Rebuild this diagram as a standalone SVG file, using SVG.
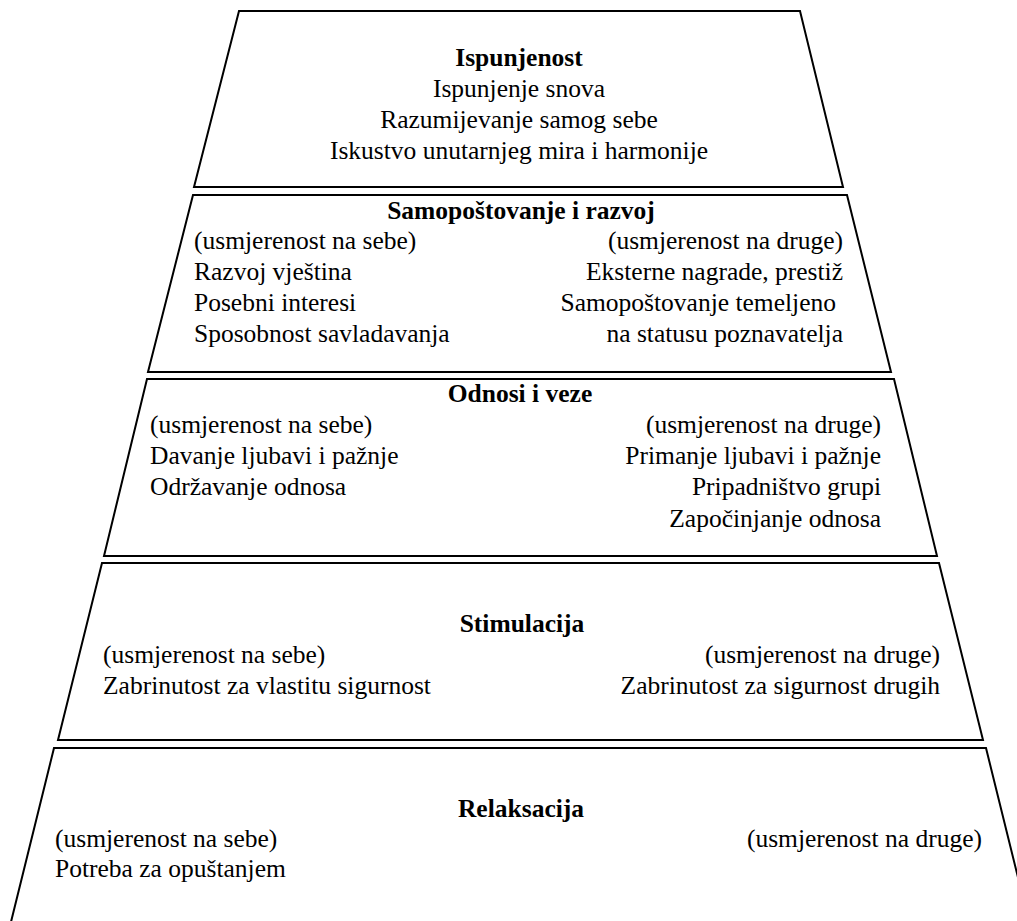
<svg xmlns="http://www.w3.org/2000/svg" width="1017" height="921" viewBox="0 0 1017 921">
<style>
.box{fill:#ffffff;stroke:#000000;stroke-width:2;stroke-linejoin:miter}
.tx{font-family:'Liberation Serif','DejaVu Serif','Noto Serif',serif;font-size:25.5px;fill:#000000}
.t{font-weight:bold;text-anchor:middle}
.c{text-anchor:middle}
.r{text-anchor:end}
</style>
<rect x="0" y="0" width="1017" height="921" fill="#ffffff"/>
<g id="connectors"/>
<g id="ispunjenost" class="tx" font-family="Liberation Serif, DejaVu Serif, serif">
<polygon class="box" points="239,11 800,11 843,187 194,187"/>
<text class="t" x="519" y="66">Ispunjenost</text>
<text class="c" x="519" y="97">Ispunjenje snova</text>
<text class="c" x="519" y="128">Razumijevanje samog sebe</text>
<text class="c" x="519" y="159">Iskustvo unutarnjeg mira i harmonije</text>
</g>
<g id="samopostovanje" class="tx" font-family="Liberation Serif, DejaVu Serif, serif">
<polygon class="box" points="193,195 847,195 891,372 148,372"/>
<text class="t" x="521" y="219">Samopoštovanje  i razvoj</text>
<text x="194" y="249">(usmjerenost na sebe)</text>
<text x="194" y="280">Razvoj vještina</text>
<text x="194" y="311">Posebni interesi</text>
<text x="194" y="342">Sposobnost savladavanja</text>
<text class="r" x="843" y="249">(usmjerenost na druge)</text>
<text class="r" x="843" y="280">Eksterne nagrade, prestiž</text>
<text class="r" x="836" y="311">Samopoštovanje temeljeno</text>
<text class="r" x="843" y="342">na statusu poznavatelja</text>
</g>
<g id="odnosi" class="tx" font-family="Liberation Serif, DejaVu Serif, serif">
<polygon class="box" points="147,379 894,379 937,556 104,556"/>
<text class="t" x="520" y="402">Odnosi i veze</text>
<text x="150" y="433">(usmjerenost na sebe)</text>
<text x="150" y="464">Davanje ljubavi i pažnje</text>
<text x="150" y="495">Održavanje odnosa</text>
<text class="r" x="881" y="433">(usmjerenost na druge)</text>
<text class="r" x="881" y="464">Primanje ljubavi i pažnje</text>
<text class="r" x="881" y="495">Pripadništvo grupi</text>
<text class="r" x="881" y="527">Započinjanje odnosa</text>
</g>
<g id="stimulacija" class="tx" font-family="Liberation Serif, DejaVu Serif, serif">
<polygon class="box" points="102,563 939,563 983,740 58,740"/>
<text class="t" x="522" y="632">Stimulacija</text>
<text x="103" y="663">(usmjerenost na sebe)</text>
<text x="103" y="694">Zabrinutost za vlastitu sigurnost</text>
<text class="r" x="940" y="663">(usmjerenost na druge)</text>
<text class="r" x="940" y="694">Zabrinutost za sigurnost drugih</text>
</g>
<g id="relaksacija" class="tx" font-family="Liberation Serif, DejaVu Serif, serif">
<polygon class="box" points="54,748 986,748 1031,930 9,930"/>
<text class="t" x="521" y="817">Relaksacija</text>
<text x="55" y="847">(usmjerenost na sebe)</text>
<text x="55" y="877">Potreba za opuštanjem</text>
<text class="r" x="982" y="847">(usmjerenost na druge)</text>
</g>
</svg>
